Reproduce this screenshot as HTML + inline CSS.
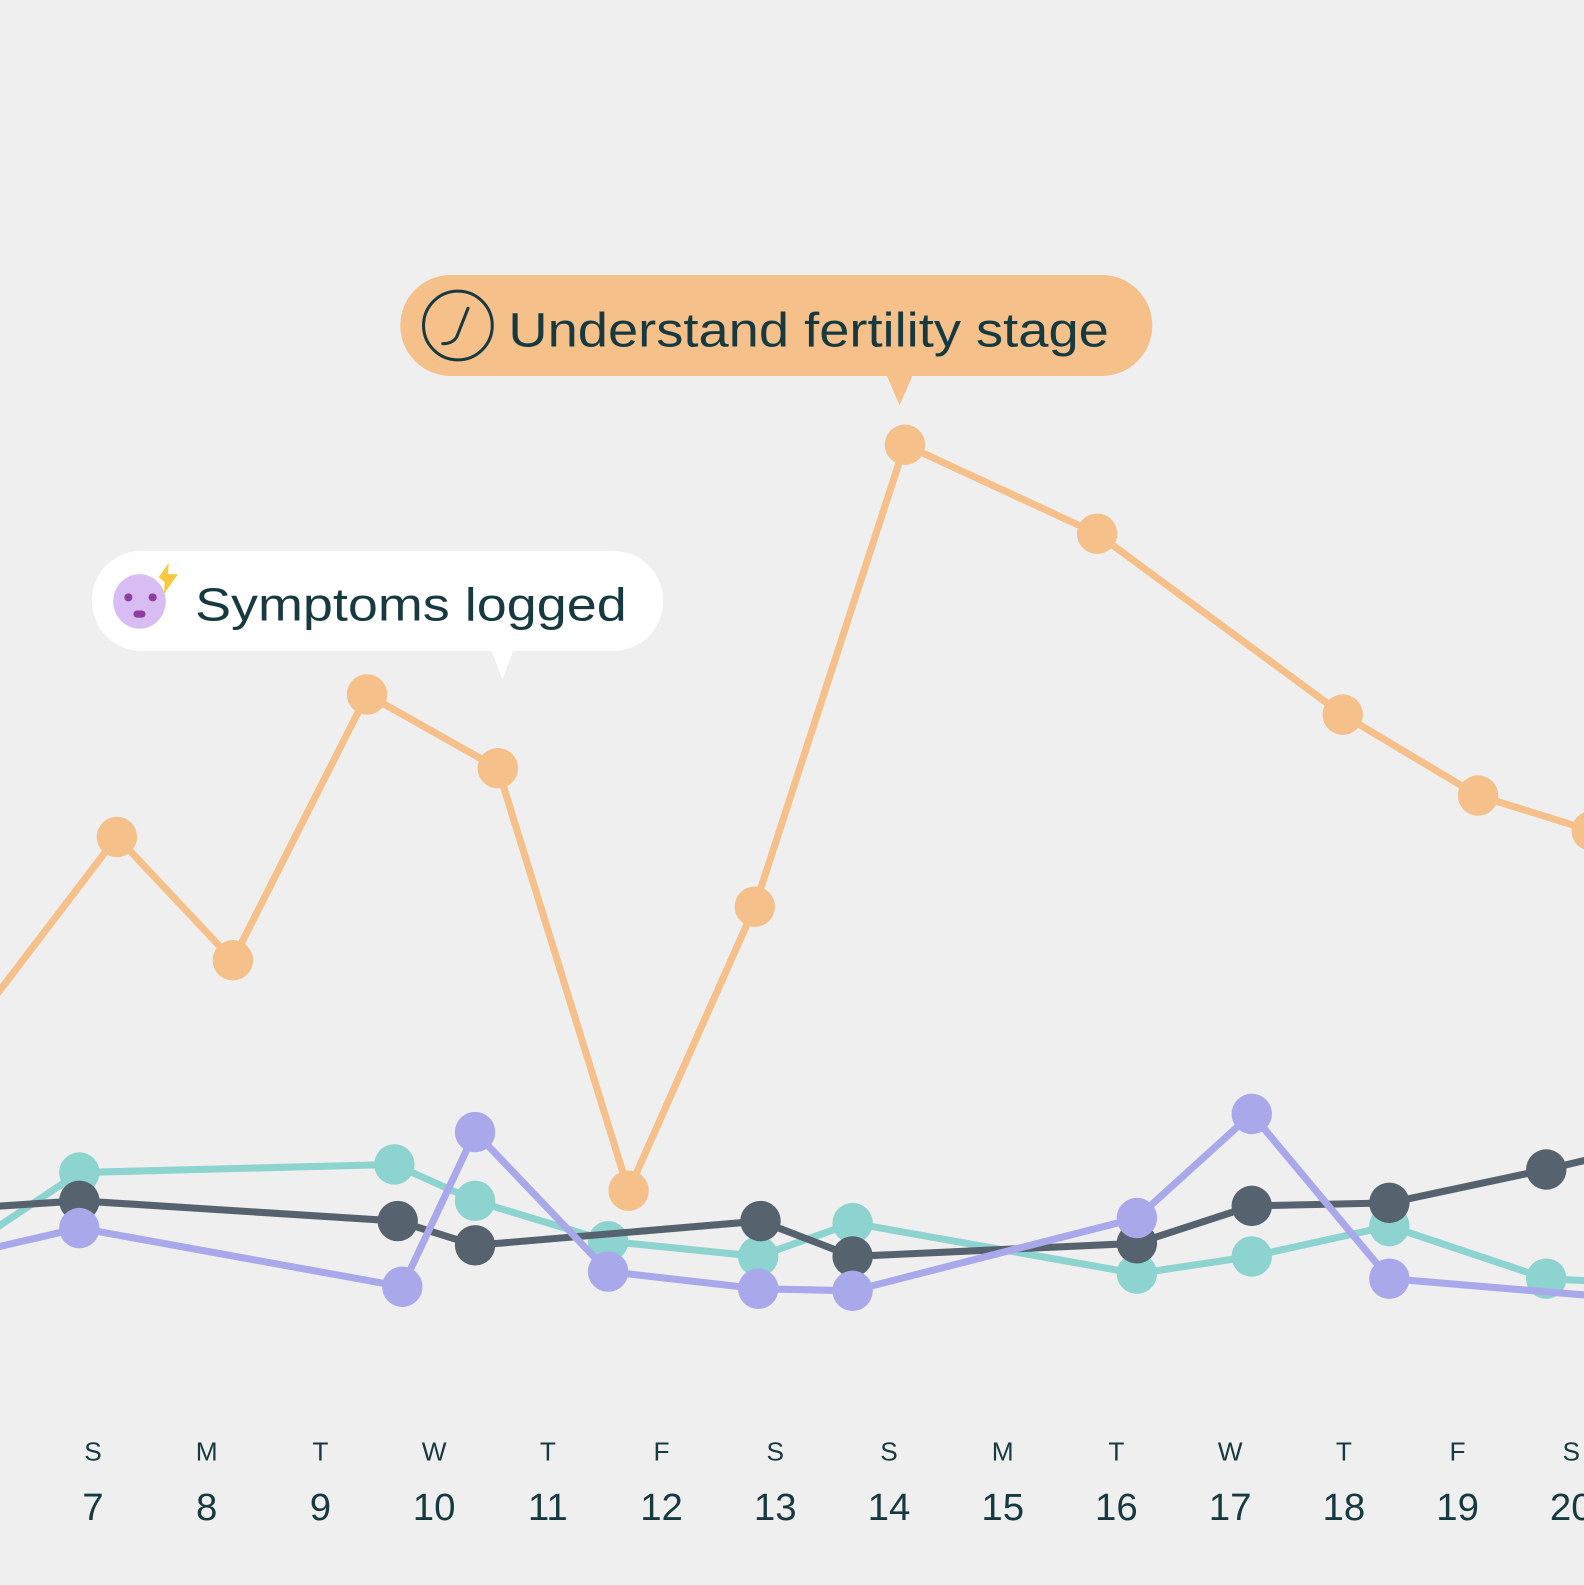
<!DOCTYPE html>
<html><head><meta charset="utf-8">
<style>
html,body{margin:0;padding:0;background:#efefef;}
svg{display:block;}
text{font-family:"Liberation Sans",sans-serif;fill:#163a40;}
</style></head>
<body>
<svg id="chart" width="1584" height="1585" viewBox="0 0 1584 1585" xmlns="http://www.w3.org/2000/svg">
<rect width="1584" height="1585" fill="#efefef"/>
<g transform="scale(1.0108)">
<g id="series"></g>
<g id="axis"></g>
<g>
  <rect x="396" y="272" width="744" height="100" rx="50" fill="#f5c08a"/>
  <path d="M877 371 L890 401 L903 371 Z" fill="#f5c08a"/>
  <circle cx="453" cy="322" r="34" fill="none" stroke="#163a40" stroke-width="3"/>
  <path d="M463 305 L452 333 Q448 340 438 340" fill="none" stroke="#163a40" stroke-width="3" stroke-linecap="round"/>
  <text x="503" y="343" font-size="48" textLength="594" lengthAdjust="spacingAndGlyphs">Understand fertility stage</text>
</g>
<g>
  <rect x="91" y="545" width="565" height="99" rx="49" fill="#ffffff"/>
  <path d="M486 643 L497 672 L508 643 Z" fill="#ffffff"/>
  <ellipse cx="138" cy="595" rx="26" ry="27" fill="#d8bdf5"/>
  <circle cx="127" cy="591" r="4" fill="#8e3f9e"/>
  <circle cx="151" cy="591" r="4" fill="#8e3f9e"/>
  <rect x="132" y="604" width="12" height="7" rx="3.5" fill="#8e3f9e"/>
  <path d="M157 571 L167 557 L166 568 L176 568 L162 588 L163 576 Z" fill="#f9c93c"/>
  <text x="193" y="614" font-size="46" textLength="427" lengthAdjust="spacingAndGlyphs">Symptoms logged</text>
</g>
</g>
<script>
var weekdays=["S","M","T","W","T","F","S","S","M","T","W","T","F","S"];
var dayNumbers=[7,8,9,10,11,12,13,14,15,16,17,18,19,20];
var orangeDays=[5.8,7.21,8.23,9.41,10.56,11.71,12.82,14.14,15.83,17.99,19.18,20.18];
var orangeValues=[36.4,57.2,45,71.3,64,22.2,50.3,96,87.2,69.3,61.3,57.8];
var tealDays=[5.8,6.88,9.65,10.36,11.53,12.85,13.68,16.18,17.19,18.4,19.78,20.31];
var tealValues=[15.9,24,24.8,21.2,17.2,15.7,19,14,15.7,18.7,13.5,13.2];
var darkDays=[5.8,6.88,9.68,10.36,12.87,13.68,16.18,17.19,18.4,19.78,20.31];
var darkValues=[20.4,21.2,19.2,16.8,19.2,15.7,17,20.7,21,24.3,25.7];
var purpleDays=[5.8,6.88,9.72,10.36,11.53,12.85,13.68,16.18,17.19,18.4,20.31];
var purpleValues=[15.7,18.5,12.7,28,14.2,12.5,12.3,19.5,29.8,13.5,11.7];

var NS="http://www.w3.org/2000/svg";
function xScale(d){return 92+(d-7)*112.5;}
function yScale(v){return 1400-v*10;}
var layer=document.getElementById('series');
function drawSeries(name,days,vals,color){
  var g=document.createElementNS(NS,'g');
  
  
  var pts=days.map(function(d,i){return xScale(d)+','+yScale(vals[i]);}).join(' ');
  var pl=document.createElementNS(NS,'polyline');
  pl.setAttribute('points',pts);
  pl.setAttribute('fill','none');pl.setAttribute('stroke',color);
  pl.setAttribute('stroke-width','7');pl.setAttribute('stroke-linejoin','round');
  
  
  g.appendChild(pl);
  days.forEach(function(d,i){
    var c=document.createElementNS(NS,'circle');
    c.setAttribute('cx',xScale(d));c.setAttribute('cy',yScale(vals[i]));
    c.setAttribute('r','20');c.setAttribute('fill',color);
    
    
    g.appendChild(c);
  });
  layer.appendChild(g);
}
drawSeries('teal',tealDays,tealValues,'#8dd3d0');
drawSeries('dark',darkDays,darkValues,'#56636e');
drawSeries('purple',purpleDays,purpleValues,'#a9a8ea');
drawSeries('orange',orangeDays,orangeValues,'#f5c08a');

var ax=document.getElementById('axis');
dayNumbers.forEach(function(n,i){
  var x=xScale(n);
  var t1=document.createElementNS(NS,'text');
  t1.setAttribute('x',x);t1.setAttribute('y',1445);
  t1.setAttribute('text-anchor','middle');t1.setAttribute('font-size','26');
  t1.textContent=weekdays[i];
  
  
  ax.appendChild(t1);
  var t2=document.createElementNS(NS,'text');
  t2.setAttribute('x',x);t2.setAttribute('y',1504);
  t2.setAttribute('text-anchor','middle');t2.setAttribute('font-size','38');
  t2.textContent=n;
  
  
  ax.appendChild(t2);
});
</script>
</svg>
</body></html>
